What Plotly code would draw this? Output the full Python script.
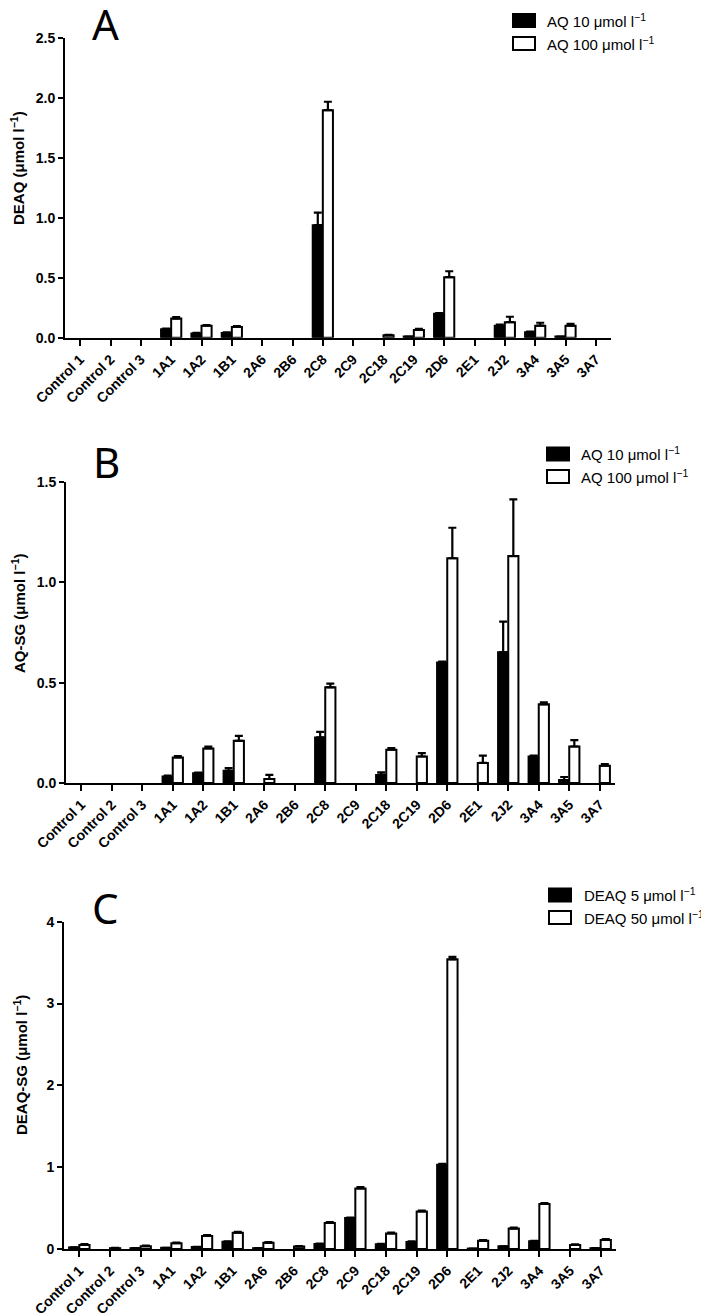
import plotly.graph_objects as go

# ---------------- data ----------------
categories = ["Control 1", "Control 2", "Control 3", "1A1", "1A2", "1B1", "2A6", "2B6",
              "2C8", "2C9", "2C18", "2C19", "2D6", "2E1", "2J2", "3A4", "3A5", "3A7"]

# Panel A: DEAQ formed
a_low = [0, 0, 0, 0.07, 0.035, 0.04, 0, 0, 0.94, 0, 0, 0.01, 0.20, 0, 0.10, 0.045, 0.01, 0]
a_low_err = [None, None, None, 0.005, 0.005, 0.005, None, None, 0.105, None, None, None, 0.005, None, 0.01, 0.005, None, None]
a_high = [0, 0, 0, 0.16, 0.10, 0.09, 0, 0, 1.90, 0, 0.02, 0.065, 0.505, 0, 0.13, 0.10, 0.10, 0]
a_high_err = [None, None, None, 0.012, 0.006, 0.006, None, None, 0.07, None, 0.004, 0.008, 0.05, None, 0.045, 0.025, 0.015, None]

# Panel B: AQ-SG formed
b_low = [0, 0, 0, 0.033, 0.048, 0.061, 0, 0, 0.227, 0, 0.04, 0, 0.60, 0, 0.652, 0.132, 0.015, 0]
b_low_err = [None, None, None, 0.004, 0.004, 0.013, None, None, 0.028, None, 0.013, None, 0.005, None, 0.152, 0.004, 0.015, None]
b_high = [0, 0, 0, 0.127, 0.172, 0.21, 0.02, 0, 0.477, 0, 0.166, 0.132, 1.12, 0.10, 1.131, 0.392, 0.182, 0.086]
b_high_err = [None, None, None, 0.007, 0.009, 0.025, 0.02, None, 0.018, None, 0.008, 0.017, 0.152, 0.036, 0.282, 0.01, 0.032, 0.008]

# Panel C: DEAQ-SG formed
c_low = [0.02, 0, 0.01, 0.015, 0.025, 0.09, 0.01, 0, 0.062, 0.38, 0.058, 0.087, 1.03, 0.005, 0.033, 0.094, 0, 0.01]
c_low_err = [None, None, None, None, None, 0.005, None, None, 0.005, 0.005, 0.005, 0.005, 0.01, None, None, 0.005, None, None]
c_high = [0.05, 0.01, 0.035, 0.07, 0.16, 0.20, 0.075, 0.03, 0.318, 0.74, 0.19, 0.459, 3.54, 0.10, 0.25, 0.55, 0.05, 0.11]
c_high_err = [0.01, 0.005, 0.008, 0.008, 0.01, 0.01, 0.008, 0.005, 0.012, 0.015, 0.01, 0.01, 0.03, 0.01, 0.012, 0.012, 0.008, 0.01]

legend_a = ["AQ 10 μmol l<sup>−1</sup>", "AQ 100 μmol l<sup>−1</sup>"]
legend_b = ["AQ 10 μmol l<sup>−1</sup>", "AQ 100 μmol l<sup>−1</sup>"]
legend_c = ["DEAQ 5 μmol l<sup>−1</sup>", "DEAQ 50 μmol l<sup>−1</sup>"]

y_titles = ["DEAQ (μmol l<sup>−1</sup>)", "AQ-SG (μmol l<sup>−1</sup>)", "DEAQ-SG (μmol l<sup>−1</sup>)"]
panel_letters = ["A", "B", "C"]
y_ranges = [[0, 2.5], [0, 1.5], [0, 4]]
y_ticks = [[0, 0.5, 1.0, 1.5, 2.0, 2.5], [0, 0.5, 1.0, 1.5], [0, 1, 2, 3, 4]]
y_tickformats = [".1f", ".1f", "d"]

# ---------------- layout geometry (pixels, page coordinates) ----------------
OFF = 8                      # default page body margin
W, H = 709 - OFF, 1316 - OFF
FONT = "Liberation Sans, Arial, sans-serif"

def px_x(x):
    return (x - OFF) / W

def px_y(y):
    return 1 - (y - OFF) / H

# (left, right, top, bottom) of each plot area in pixels
boxes = [(65, 611, 38.3, 337.7), (66, 615, 482, 783), (64, 616, 921.7, 1249)]
title_pos = [(18, 168), (18, 613), (20, 1065)]
letter_pos = [(105, 24), (106, 462), (105, 907)]
legend_geo = [(513, 545, 20.5, 43.5), (547, 579, 454, 476.5), (549, 582, 895, 917.5)]

panels = [
    (a_low, a_low_err, a_high, a_high_err, legend_a),
    (b_low, b_low_err, b_high, b_high_err, legend_b),
    (c_low, c_low_err, c_high, c_high_err, legend_c),
]

fig = go.Figure()
layout = dict(
    template="none",
    width=W, height=H,
    margin=dict(l=0, r=0, t=0, b=0, autoexpand=False),
    paper_bgcolor="white", plot_bgcolor="white",
    barmode="group", bargap=1/3, bargroupgap=0,
    showlegend=False,
    font=dict(family=FONT, color="black"),
)
annotations = []
shapes = []

for i, (low, low_err, high, high_err, leg) in enumerate(panels):
    suffix = "" if i == 0 else str(i + 1)
    xa, ya = "x" + suffix, "y" + suffix
    for vals, errs, fill, name in [(low, low_err, "black", leg[0]), (high, high_err, "white", leg[1])]:
        shown = [v if v else None for v in vals]   # undetected -> no bar drawn
        fig.add_trace(go.Bar(
            x=categories, y=shown, name=name,
            marker=dict(color=fill, line=dict(color="black", width=2)),
            error_y=dict(type="data", symmetric=False, array=errs,
                         arrayminus=[0] * len(errs), color="black",
                         thickness=2.2, width=4),
            xaxis=xa, yaxis=ya,
        ))
    l, r, t, b = boxes[i]
    layout["xaxis" + suffix] = dict(
        domain=[px_x(l), px_x(r)], anchor=ya, type="category", automargin=False,
        range=[-0.5, len(categories) - 0.5],
        showline=True, linecolor="black", linewidth=2,
        ticks="outside", ticklen=6, tickwidth=2, tickcolor="black",
        tickangle=-45, showgrid=False, zeroline=False,
        tickfont=dict(family=FONT, size=14, color="black", weight="bold"),
    )
    layout["yaxis" + suffix] = dict(
        domain=[px_y(b), px_y(t)], anchor=xa, automargin=False,
        range=y_ranges[i], tickvals=y_ticks[i], tickformat=y_tickformats[i],
        showline=True, linecolor="black", linewidth=2,
        ticks="outside", ticklen=5, tickwidth=2, tickcolor="black",
        showgrid=False, zeroline=False,
        tickfont=dict(family=FONT, size=14, color="black", weight="bold"),
    )
    # y-axis title
    tx, ty = title_pos[i]
    annotations.append(dict(
        text=y_titles[i], xref="paper", yref="paper", x=px_x(tx), y=px_y(ty),
        xanchor="center", yanchor="middle", textangle=-90, showarrow=False,
        font=dict(family=FONT, size=15, color="black", weight="bold"),
    ))
    # panel letter
    lx, ly = letter_pos[i]
    annotations.append(dict(
        text=panel_letters[i], xref="paper", yref="paper", x=px_x(lx), y=px_y(ly),
        xanchor="center", yanchor="middle", showarrow=False,
        font=dict(family="Noto Sans, Open Sans, sans-serif", size=42, color="black"),
    ))
    # legend
    sx, txl, r1, r2 = legend_geo[i]
    for row_y, fill, label in [(r1, "black", leg[0]), (r2, "white", leg[1])]:
        shapes.append(dict(
            type="rect", xref="paper", yref="paper",
            x0=px_x(sx), x1=px_x(sx + 22), y0=px_y(row_y + 6.5), y1=px_y(row_y - 6.5),
            fillcolor=fill, line=dict(color="black", width=2),
        ))
        annotations.append(dict(
            text=label, xref="paper", yref="paper", x=px_x(txl), y=px_y(row_y),
            xanchor="left", yanchor="middle", showarrow=False,
            font=dict(family=FONT, size=15, color="black"),
        ))

layout["annotations"] = annotations
layout["shapes"] = shapes
fig.update_layout(**layout)
fig.write_html("out.html")
